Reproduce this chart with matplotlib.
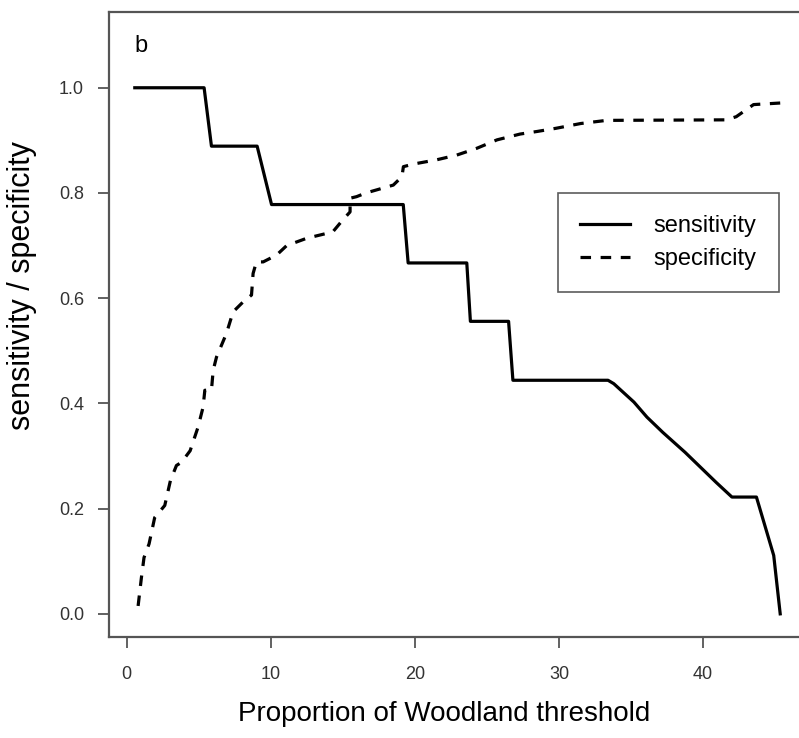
import numpy as np
from matplotlib import pyplot as plt

# sensitivity curve (solid)
sens_x = [0.56, 5.37, 5.88, 9.05, 10.05, 19.19, 19.53, 23.6, 23.85, 26.5, 26.8,
          33.4, 33.8, 35.2, 36.1, 37.2, 38.75, 40.9, 42.0, 43.7, 44.9, 45.35]
sens_y = [1.0, 1.0, 0.889, 0.889, 0.778, 0.778, 0.667, 0.667, 0.556, 0.556, 0.444,
          0.444, 0.4375, 0.4025, 0.374, 0.345, 0.307, 0.25, 0.222, 0.222, 0.111, 0.0]

# specificity curve (dashed)
spec_x = [0.79, 1.02, 1.2, 1.55, 1.94, 2.64, 3.03, 3.45, 3.8, 4.4, 4.95, 5.3, 5.42,
          5.88, 6.0, 6.23, 6.92, 7.38, 8.08, 8.66, 8.77, 9.0, 9.47, 10.4, 11.1,
          12.5, 14.3, 15.0, 15.5, 15.5, 15.95, 16.6, 18.5, 19.1, 19.2, 19.9, 21.5,
          22.9, 24.3, 25.7, 27.3, 28.5, 29.8, 31.5, 33.3, 41.6, 42.3, 43.5, 45.35]
spec_y = [0.015, 0.069, 0.107, 0.133, 0.183, 0.206, 0.253, 0.282, 0.288, 0.31,
          0.355, 0.393, 0.425, 0.425, 0.463, 0.488, 0.533, 0.574, 0.593, 0.606,
          0.647, 0.669, 0.669, 0.682, 0.70, 0.714, 0.726, 0.749, 0.764, 0.79,
          0.793, 0.80, 0.815, 0.831, 0.85, 0.855, 0.863, 0.872, 0.885, 0.901,
          0.912, 0.917, 0.923, 0.932, 0.938, 0.939, 0.945, 0.968, 0.971]

xticks = [0, 10, 20, 30, 40]
yticks = [0.0, 0.2, 0.4, 0.6, 0.8, 1.0]

plt.rcParams['font.family'] = ['Liberation Sans', 'DejaVu Sans']

fig = plt.figure(figsize=(7.99, 7.38), dpi=100)
# right edge of the box falls just outside the picture, as in the original
ax = fig.add_axes([109/799, 101/738, 697/799, 625/738])

ax.plot(sens_x, sens_y, color='black', lw=2.3, label='sensitivity')
ax.plot(spec_x, spec_y, color='black', lw=2.3, dashes=(3.3, 3.0), label='specificity')

ax.set_xlim(-1.23, 47.14)
ax.set_ylim(-0.044, 1.144)
ax.set_xticks(xticks)
ax.set_yticks(yticks)
ax.set_yticklabels([f'{v:.1f}' for v in yticks])

grey = '#555555'
for s in ax.spines.values():
    s.set_color(grey)
    s.set_linewidth(1.6)
ax.tick_params(length=8, width=1.3, color=grey, labelcolor='#333333', labelsize=13)
ax.tick_params(axis='x', pad=13)
ax.tick_params(axis='y', pad=10)

ax.set_xlabel('Proportion of Woodland threshold', fontsize=20)
ax.xaxis.set_label_coords(0.4806, -0.103)
ax.set_ylabel('sensitivity / specificity', fontsize=22)
ax.yaxis.set_label_coords(-0.103, 0.5616)

ax.text(0.037, 0.936, 'b', transform=ax.transAxes, fontsize=17)

leg = ax.legend(loc='upper left', bbox_to_anchor=(449/697, (637-193)/625),
                fontsize=17, frameon=True, fancybox=False, handlelength=2.1,
                borderpad=0.95, labelspacing=0.45, handletextpad=1.0,
                borderaxespad=0)
leg.get_frame().set_edgecolor('#333333')
leg.get_frame().set_linewidth(1.2)

fig.savefig('out.png', dpi=100)
